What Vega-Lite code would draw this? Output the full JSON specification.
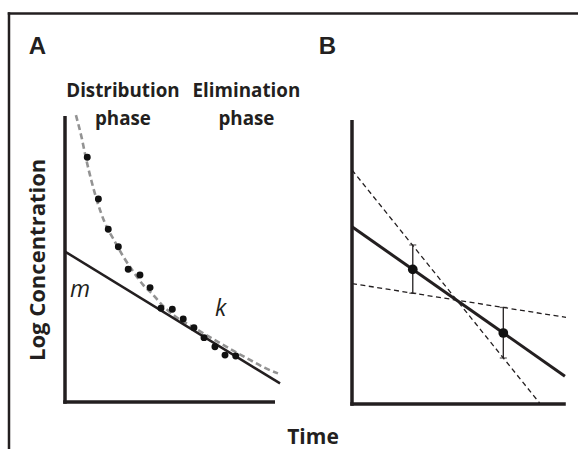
{
  "$schema": "https://vega.github.io/schema/vega-lite/v6.json",
  "width": 578,
  "height": 449,
  "autosize": {"type": "none"},
  "padding": 0,
  "background": "white",
  "config": {"view": {"stroke": null}},
  "datasets": {
    "frame": [
      {"t": -2.667, "c": 13.58, "t2": -2.667, "c2": -3},
      {"t": -2.667, "c": 13.58, "t2": 26, "c2": 13.58}
    ],
    "a_axes": [
      {"t": 0, "c": -0.06, "t2": 0, "c2": 10},
      {"t": -0.085, "c": 0, "t2": 10, "c2": 0}
    ],
    "a_curve": [
      {"t": 0.52, "c": 10.03}, {"t": 0.8, "c": 9.22}, {"t": 1.0, "c": 8.52},
      {"t": 1.27, "c": 7.7}, {"t": 1.54, "c": 7.0}, {"t": 1.9, "c": 6.26},
      {"t": 2.38, "c": 5.6}, {"t": 2.78, "c": 5.08}, {"t": 3.25, "c": 4.56},
      {"t": 3.73, "c": 4.09}, {"t": 4.13, "c": 3.8}, {"t": 4.68, "c": 3.35},
      {"t": 5.24, "c": 3.0}, {"t": 5.95, "c": 2.68}, {"t": 6.9, "c": 2.27},
      {"t": 7.86, "c": 1.86}, {"t": 8.81, "c": 1.47}, {"t": 9.5, "c": 1.2},
      {"t": 10.14, "c": 1.0}
    ],
    "a_line": [
      {"t": 0, "c": 5.26}, {"t": 10.24, "c": 0.65}
    ],
    "a_points": [
      {"t": 1.06, "c": 8.56}, {"t": 1.59, "c": 7.1}, {"t": 2.06, "c": 6.04},
      {"t": 2.54, "c": 5.43}, {"t": 3.01, "c": 4.64}, {"t": 3.57, "c": 4.44},
      {"t": 4.05, "c": 4.0}, {"t": 4.57, "c": 3.28}, {"t": 5.11, "c": 3.24},
      {"t": 5.63, "c": 2.9}, {"t": 6.14, "c": 2.6}, {"t": 6.62, "c": 2.25},
      {"t": 7.14, "c": 1.93}, {"t": 7.62, "c": 1.64}, {"t": 8.13, "c": 1.61}
    ],
    "a_letter": [{"t": -1.73, "c": 12.17, "label": "A"}],
    "a_phase": [
      {"t": 2.76, "c": 10.67, "label": "Distribution"},
      {"t": 2.76, "c": 9.7, "label": "phase"},
      {"t": 8.64, "c": 10.67, "label": "Elimination"},
      {"t": 8.64, "c": 9.7, "label": "phase"}
    ],
    "a_params": [
      {"t": 0.24, "c": 3.68, "label": "m"},
      {"t": 7.14, "c": 2.99, "label": "k"}
    ],
    "a_ytitle": [{"t": -0.94, "c": 4.97, "label": "Log Concentration"}],
    "a_xtitle": [{"t": 11.81, "c": -1.48, "label": "Time"}],
    "b_axes": [
      {"t": 0, "c": -0.06, "t2": 0, "c2": 10},
      {"t": -0.08, "c": 0, "t2": 9.99, "c2": 0}
    ],
    "b_fit": [{"t": 0, "c": 6.24}, {"t": 9.95, "c": 0.98}],
    "b_steep": [{"t": 0, "c": 8.24}, {"t": 8.77, "c": 0.03}],
    "b_shallow": [{"t": 0, "c": 4.24}, {"t": 10, "c": 3.05}],
    "b_points": [
      {"t": 2.84, "c": 4.74, "lo": 3.9, "hi": 5.6},
      {"t": 7.07, "c": 2.5, "lo": 1.62, "hi": 3.4}
    ],
    "b_letter": [{"t": -1.55, "c": 12.32, "label": "B"}]
  },
  "layer": [
    {
      "encoding": {
        "x": {"field": "t", "type": "quantitative", "axis": null,
              "scale": {"domain": [0, 10], "range": [65, 275], "nice": false, "zero": false}},
        "y": {"field": "c", "type": "quantitative", "axis": null,
              "scale": {"domain": [0, 10], "range": [402, 116], "nice": false, "zero": false}}
      },
      "layer": [
        {
          "data": {"name": "frame"},
          "mark": {"type": "rule", "color": "#231f20", "strokeWidth": 2.5, "strokeCap": "square"},
          "encoding": {"x2": {"field": "t2"}, "y2": {"field": "c2"}}
        },
        {
          "data": {"name": "a_axes"},
          "mark": {"type": "rule", "color": "#231f20", "strokeWidth": 3.5},
          "encoding": {"x2": {"field": "t2"}, "y2": {"field": "c2"}}
        },
        {
          "data": {"name": "a_curve"},
          "mark": {"type": "line", "color": "#939393", "strokeWidth": 2.6, "strokeDash": [6, 3.5], "interpolate": "monotone"}
        },
        {
          "data": {"name": "a_line"},
          "mark": {"type": "line", "color": "#231f20", "strokeWidth": 2.5}
        },
        {
          "data": {"name": "a_points"},
          "mark": {"type": "circle", "color": "#111111", "opacity": 1, "size": 48}
        },
        {
          "data": {"name": "a_letter"},
          "mark": {"type": "text", "font": "Liberation Sans", "fontWeight": "bold", "fontSize": 24, "align": "left", "baseline": "alphabetic", "color": "#231f20"},
          "encoding": {"text": {"field": "label"}}
        },
        {
          "data": {"name": "a_phase"},
          "mark": {"type": "text", "font": "Open Sans", "fontWeight": "bold", "fontSize": 18.8, "align": "center", "baseline": "alphabetic", "color": "#231f20"},
          "encoding": {"text": {"field": "label"}}
        },
        {
          "data": {"name": "a_params"},
          "mark": {"type": "text", "font": "Open Sans", "fontStyle": "italic", "fontSize": 23, "align": "left", "baseline": "alphabetic", "color": "#231f20"},
          "encoding": {"text": {"field": "label"}}
        },
        {
          "data": {"name": "a_ytitle"},
          "mark": {"type": "text", "font": "Open Sans", "fontWeight": "bold", "fontSize": 22, "angle": 270, "align": "center", "baseline": "alphabetic", "color": "#231f20"},
          "encoding": {"text": {"field": "label"}}
        },
        {
          "data": {"name": "a_xtitle"},
          "mark": {"type": "text", "font": "Open Sans", "fontWeight": "bold", "fontSize": 21, "align": "center", "baseline": "alphabetic", "color": "#231f20"},
          "encoding": {"text": {"field": "label"}}
        }
      ]
    },
    {
      "encoding": {
        "x": {"field": "t", "type": "quantitative", "axis": null,
              "scale": {"domain": [0, 10], "range": [352, 566], "nice": false, "zero": false}},
        "y": {"field": "c", "type": "quantitative", "axis": null,
              "scale": {"domain": [0, 10], "range": [404, 120], "nice": false, "zero": false}}
      },
      "layer": [
        {
          "data": {"name": "b_axes"},
          "mark": {"type": "rule", "color": "#231f20", "strokeWidth": 3.5},
          "encoding": {"x2": {"field": "t2"}, "y2": {"field": "c2"}}
        },
        {
          "data": {"name": "b_steep"},
          "mark": {"type": "line", "color": "#231f20", "strokeWidth": 1.3, "strokeDash": [5, 3.5]}
        },
        {
          "data": {"name": "b_shallow"},
          "mark": {"type": "line", "color": "#231f20", "strokeWidth": 1.3, "strokeDash": [5, 3.5]}
        },
        {
          "data": {"name": "b_fit"},
          "mark": {"type": "line", "color": "#231f20", "strokeWidth": 3}
        },
        {
          "data": {"name": "b_points"},
          "mark": {"type": "errorbar", "color": "#231f20", "thickness": 1.3, "ticks": {"size": 7, "thickness": 1.3}},
          "encoding": {
            "y": {"field": "lo", "type": "quantitative", "axis": null,
                  "scale": {"domain": [0, 10], "range": [404, 120], "nice": false, "zero": false}},
            "y2": {"field": "hi"}
          }
        },
        {
          "data": {"name": "b_points"},
          "mark": {"type": "circle", "color": "#111111", "opacity": 1, "size": 95}
        },
        {
          "data": {"name": "b_letter"},
          "mark": {"type": "text", "font": "Liberation Sans", "fontWeight": "bold", "fontSize": 24, "align": "left", "baseline": "alphabetic", "color": "#231f20"},
          "encoding": {"text": {"field": "label"}}
        }
      ]
    }
  ],
  "resolve": {"scale": {"x": "independent", "y": "independent"}}
}
